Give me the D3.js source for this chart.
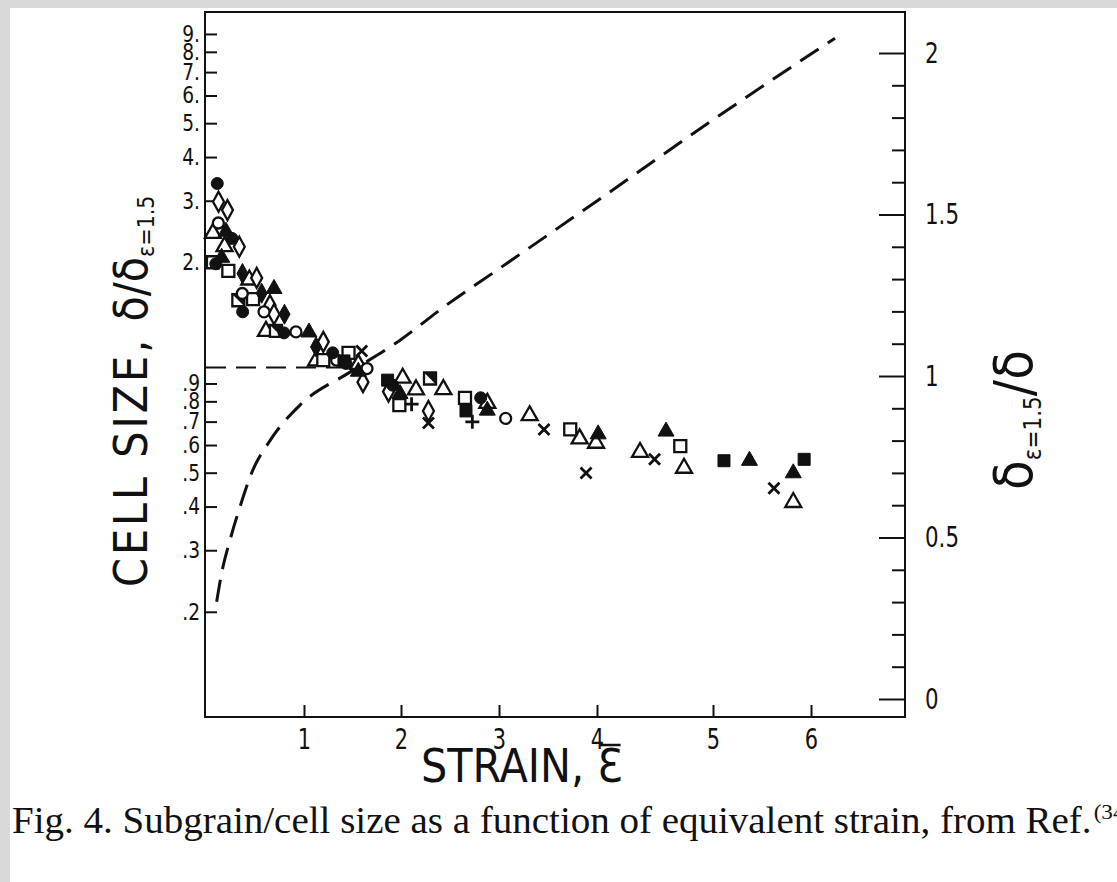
<!DOCTYPE html>
<html><head><meta charset="utf-8">
<script src="https://cdn.jsdelivr.net/npm/d3@7"></script>
<style>
html,body{margin:0;padding:0;background:#fff;}
svg{display:block;}
.cond{font-family:"DejaVu Sans","Liberation Sans",sans-serif;font-stretch:condensed;fill:#111;}
.serif{font-family:"Liberation Serif","Times New Roman",serif;fill:#111;}
</style></head><body>
<svg id="chart" width="1117" height="882"></svg>
<script>
// ---------- data ----------
const xTickValues = [1, 2, 3, 4, 5, 6];
const xBreaks = [0, 1, 2, 3, 4, 5, 6, 7];           // hand-drawn strain axis breakpoints
const leftTickValues = [0.2, 0.3, 0.4, 0.5, 0.6, 0.7, 0.8, 0.9, 2, 3, 4, 5, 6, 7, 8, 9];
const leftTickLabels = [".2", ".3", ".4", ".5", ".6", ".7", ".8", ".9", "2.", "3.", "4.", "5.", "6.", "7.", "8.", "9."];
const rightMajorValues = [0, 0.5, 1, 1.5, 2];
const rightMajorLabels = ["0", "0.5", "1", "1.5", "2"];
const rightMinorValues = [0.1, 0.2, 0.3, 0.4, 0.6, 0.7, 0.8, 0.9, 1.1, 1.2, 1.3, 1.4, 1.6, 1.7, 1.8, 1.9];

// strain, delta/delta(1.5)
const filledCircles = [[0.115,3.36],[0.10,1.98],[0.265,2.34],[0.374,1.443],[0.796,1.256],[1.296,1.101],[1.433,1.027],[1.915,0.890],[2.813,0.819]];
const openCircles = [[0.126,2.59],[0.37,1.628],[0.592,1.443],[0.918,1.264],[1.337,1.049],[1.649,0.993],[3.068,0.715]];
const openDiamonds = [[0.128,2.98],[0.219,2.82],[0.34,2.216],[0.517,1.804],[0.653,1.507],[0.694,1.420],[1.199,1.184],[1.608,0.908],[1.871,0.853],[2.28,0.751]];
const filledDiamonds = [[0.372,1.857],[0.568,1.631],[0.801,1.420],[1.124,1.145]];
const openTriangles = [[0.071,2.443],[0.189,2.238],[0.442,1.797],[0.612,1.281],[1.124,1.054],[1.56,1.031],[2.017,0.941],[2.153,0.871],[2.432,0.873],[2.881,0.797],[3.313,0.735],[3.823,0.631],[3.99,0.613],[4.371,0.577],[4.75,0.520],[5.819,0.415]];
const filledTriangles = [[0.204,2.47],[0.16,2.08],[0.694,1.694],[1.051,1.272],[1.56,0.982],[1.99,0.848],[2.881,0.760],[4.01,0.650],[4.595,0.662],[5.372,0.546],[5.819,0.503]];
const openSquares = [[0.071,2.0],[0.228,1.89],[0.48,1.568],[1.199,1.049],[1.459,1.101],[1.983,0.780],[2.653,0.819],[3.727,0.665],[4.718,0.596]];
const halfSquares = [[0.33,1.557],[0.714,1.272],[2.296,0.930]];
const filledSquares = [[1.412,1.044],[1.862,0.920],[2.663,0.751],[5.112,0.541],[5.93,0.546]];
const crosses = [[1.595,1.115],[2.28,0.694],[3.459,0.665],[3.888,0.499],[4.496,0.546],[5.622,0.451]];
const pluses = [[2.108,0.785],[2.728,0.699]];

// dashed curve: strain, delta(1.5)/delta (right axis)
const ratioCurve = [[0.109,0.301],[0.16,0.390],[0.245,0.492],[0.347,0.595],[0.466,0.700],[0.653,0.80],[0.959,0.910],[1.474,1.012],[1.99,1.111],[2.466,1.220],[3.01,1.334],[4.0,1.542],[5.0,1.793],[6.0,1.997],[6.245,2.046]];
// horizontal reference at delta/delta(1.5) = 1
const unityLine = [[0,1],[1.49,1]];

// ---------- layout ----------
const L = 205, R = 905, T = 12, B = 717;
const ink = "#111";
const svg = d3.select("#chart");
svg.append("rect").attr("width",1117).attr("height",882).attr("fill","#d9d9d9");
svg.append("rect").attr("x",10).attr("y",8).attr("width",1107).attr("height",874).attr("fill","#fff");

const x = d3.scaleLinear().domain(xBreaks).range([206,304,401,499,597,713,811,909]);
const y = d3.scaleLog().domain([0.1, 10.4]).range([B, T]);
const yR = d3.scaleLinear().domain([0, 2]).range([699, 53]);

// frame
svg.append("rect").attr("x",L).attr("y",T).attr("width",R-L).attr("height",B-T)
  .attr("fill","none").attr("stroke",ink).attr("stroke-width",2);

function styleAxis(g, size){
  g.select(".domain").remove();
  g.selectAll(".tick line").attr("stroke",ink).attr("stroke-width",2);
  g.selectAll(".tick text").attr("class","cond").attr("fill",ink).style("font-size",size+"px");
}

// bottom axis
const gx = svg.append("g").attr("transform",`translate(0,${B})`)
  .call(d3.axisBottom(x).tickValues(xTickValues).tickFormat(d3.format("d")).tickSize(-12).tickPadding(11));
styleAxis(gx, 29);
gx.selectAll(".tick text").attr("transform","scale(0.8,1)");

// left axis
const gy = svg.append("g").attr("transform",`translate(${L},0)`)
  .call(d3.axisLeft(y).tickValues(leftTickValues).tickFormat((d,i)=>leftTickLabels[i]).tickSize(-12).tickPadding(5));
styleAxis(gy, 23);
gy.selectAll(".tick text").attr("x",-5/0.9).attr("transform","scale(0.9,1)");

// right axis
const gr1 = svg.append("g").attr("transform",`translate(${R},0)`)
  .call(d3.axisRight(yR).tickValues(rightMinorValues).tickFormat("").tickSize(-13));
styleAxis(gr1, 20);
const gr2 = svg.append("g").attr("transform",`translate(${R},0)`)
  .call(d3.axisRight(yR).tickValues(rightMajorValues).tickFormat((d,i)=>rightMajorLabels[i]).tickSize(-26).tickPadding(20));
styleAxis(gr2, 29);
gr2.selectAll(".tick text").attr("x",20/0.82).attr("transform","scale(0.82,1)");

// dashed lines
svg.append("path").datum(unityLine)
  .attr("d", d3.line().x(d=>x(d[0])).y(d=>y(d[1])))
  .attr("fill","none").attr("stroke",ink).attr("stroke-width",2).attr("stroke-dasharray","20,10");
svg.append("path").datum(ratioCurve)
  .attr("d", d3.line().x(d=>x(d[0])).y(d=>yR(d[1])).curve(d3.curveMonotoneX))
  .attr("fill","none").attr("stroke",ink).attr("stroke-width",3).attr("stroke-dasharray","22,11");

// markers
const series = [
  {type:"openTri", data:openTriangles},
  {type:"openSq", data:openSquares},
  {type:"halfSq", data:halfSquares},
  {type:"openDia", data:openDiamonds},
  {type:"openCirc", data:openCircles},
  {type:"fillSq", data:filledSquares},
  {type:"fillTri", data:filledTriangles},
  {type:"fillDia", data:filledDiamonds},
  {type:"fillCirc", data:filledCircles},
  {type:"cross", data:crosses},
  {type:"plus", data:pluses}
];
const tri = "M0,-8L8,6L-8,6Z", sq = "M-6,-6H6V6H-6Z", dia = "M0,-10L5.5,0L0,10L-5.5,0Z";
const mg = svg.append("g");
series.forEach(s=>{
  const g = mg.selectAll(null).data(s.data).enter().append("g")
    .attr("transform", d=>`translate(${x(d[0])},${y(d[1])})`);
  const open = {fill:"#fff", stroke:ink, "stroke-width":2.3};
  const full = {fill:ink, stroke:ink, "stroke-width":1};
  const apply = (sel,o)=>{Object.entries(o).forEach(([k,v])=>sel.attr(k,v)); return sel;};
  switch(s.type){
    case "openTri": apply(g.append("path").attr("d",tri),open); break;
    case "fillTri": apply(g.append("path").attr("d",tri),full); break;
    case "openSq": apply(g.append("path").attr("d",sq),open); break;
    case "fillSq": apply(g.append("path").attr("d",sq),full); break;
    case "halfSq": apply(g.append("path").attr("d",sq),open);
      g.append("path").attr("d","M-6,-6H6V6Z").attr("fill",ink); break;
    case "openDia": apply(g.append("path").attr("d",dia),open); break;
    case "fillDia": apply(g.append("path").attr("d",dia),full); break;
    case "openCirc": apply(g.append("circle").attr("r",5.5),open); break;
    case "fillCirc": apply(g.append("circle").attr("r",6),full); break;
    case "cross": g.append("path").attr("d","M-5.5,-5.5L5.5,5.5M-5.5,5.5L5.5,-5.5").attr("stroke",ink).attr("stroke-width",2.8); break;
    case "plus": g.append("path").attr("d","M-7,0H7M0,-7V7").attr("stroke",ink).attr("stroke-width",2.8); break;
  }
});

// titles
const lt = svg.append("text").attr("class","cond").attr("transform","translate(147,587) rotate(-90)")
  .style("font-size","46px");
lt.append("tspan").text("CELL SIZE,").style("letter-spacing","3px");
lt.append("tspan").text(" δ/δ").attr("dx",2);
lt.append("tspan").text("ε=1.5").style("font-size","23px").attr("dy",7);

const rt = svg.append("text").attr("class","cond").attr("transform","translate(1032,490) rotate(-90)")
  .style("font-size","54px");
rt.append("tspan").text("δ");
rt.append("tspan").text("ε=1.5").style("font-size","24px").attr("dy",9);
rt.append("tspan").text("/δ").attr("dy",-9);

const xt = svg.append("text").attr("class","cond").attr("x",421).attr("y",782)
  .style("font-size","46px").text("STRAIN, Ɛ");
const xn = xt.node(); const ext = xn.getExtentOfChar(xn.getNumberOfChars()-1);
svg.append("line").attr("x1",ext.x+3).attr("x2",ext.x+ext.width-2)
  .attr("y1",745).attr("y2",745).attr("stroke",ink).attr("stroke-width",2.5);

// caption
const cap = svg.append("text").attr("class","serif").attr("x",12).attr("y",833).style("font-size","37px");
cap.append("tspan").text("Fig. 4. Subgrain/cell size as a function of equivalent strain, from Ref.");
const capLen = cap.node().getComputedTextLength();
const sx = 1080/capLen;
cap.attr("transform",`translate(12,833) scale(${sx},1) translate(-12,-833)`);
cap.append("tspan").text("(34)").style("font-size","22px").attr("dy",-14).attr("dx",2);
</script>
</body></html>
